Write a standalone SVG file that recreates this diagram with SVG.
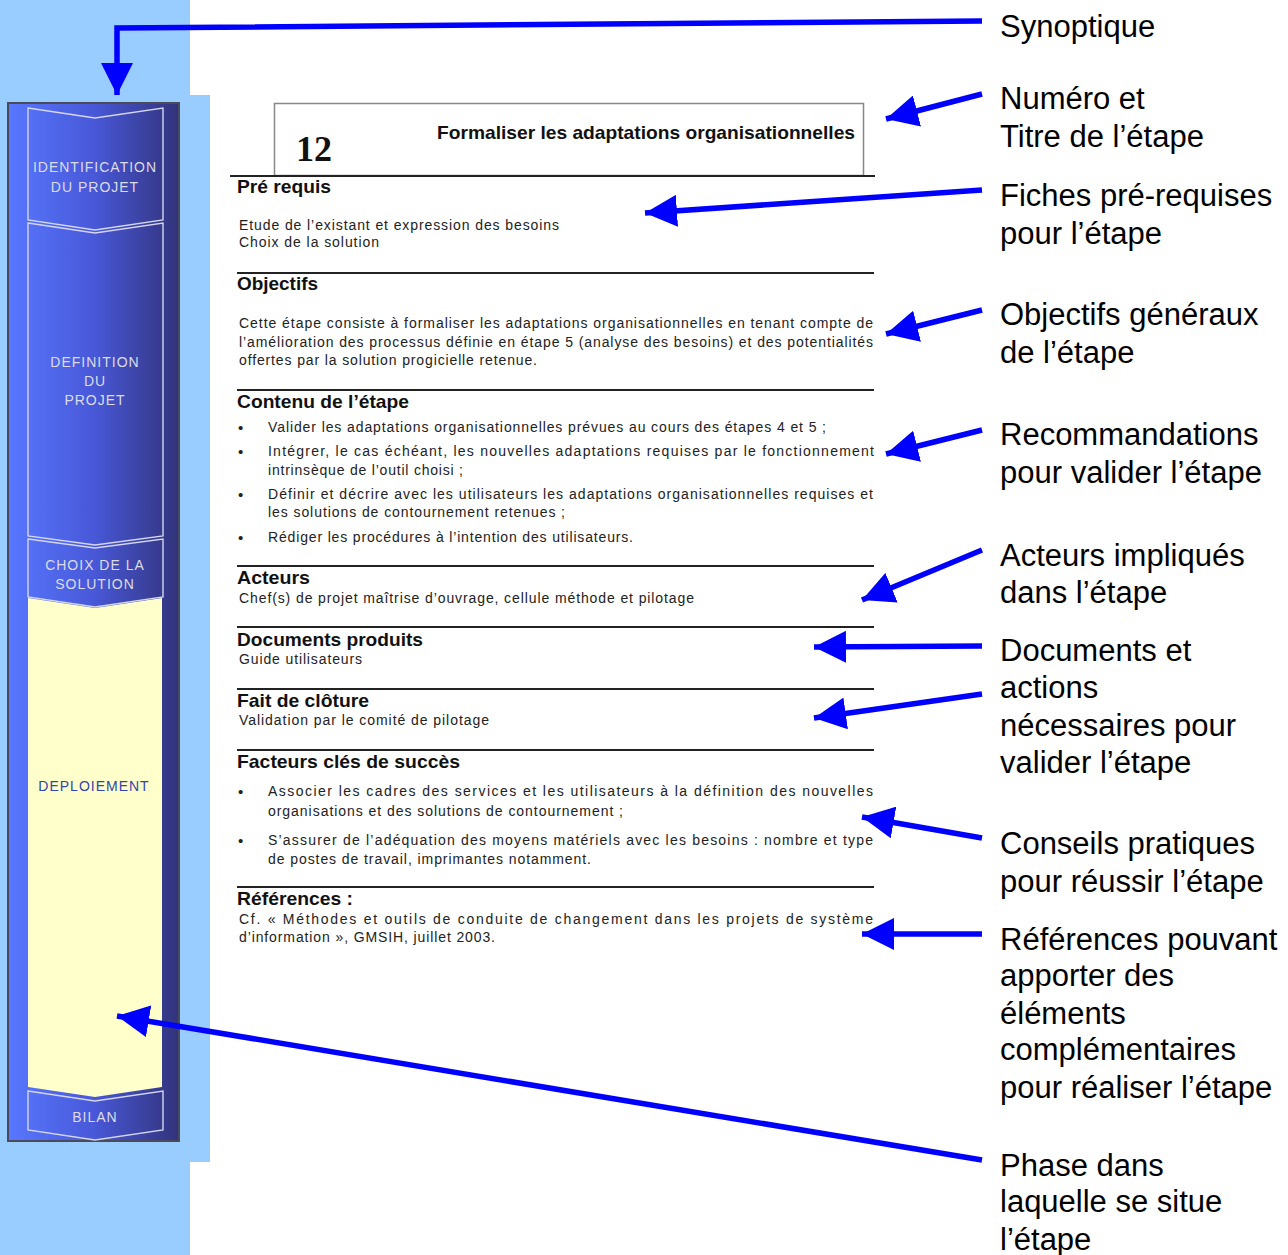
<svg xmlns="http://www.w3.org/2000/svg" width="1288" height="1255" viewBox="0 0 1288 1255">
<style>
.bg{fill:#99CCFF}
.pan{fill:none;stroke:#d4d6f0;stroke-width:1.4}
.side{font-family:"Liberation Sans",Arial,sans-serif;font-size:14px;fill:#dcdce8;text-anchor:middle;letter-spacing:1px}
.h{font-family:"Liberation Sans",Arial,sans-serif;font-size:19px;font-weight:bold;fill:#111}
.b{font-family:"Liberation Sans",Arial,sans-serif;font-size:14px;fill:#222}
.bu{font-family:"Liberation Sans",Arial,sans-serif;font-size:15px;fill:#222}
.lab{font-family:"Liberation Sans",Arial,sans-serif;font-size:31px;fill:#000}
.sep{stroke:#222;stroke-width:2}
.arr{fill:none;stroke:#0000FF;stroke-width:5.5;stroke-linecap:butt;stroke-linejoin:miter;marker-end:url(#ah)}
</style>
<defs>
<linearGradient id="sg" x1="0" y1="0" x2="1" y2="0">
<stop offset="0" stop-color="#5878ff"/>
<stop offset="0.5" stop-color="#4858d8"/>
<stop offset="1" stop-color="#32337a"/>
</linearGradient>
<marker id="ah" viewBox="0 0 32 32" refX="32" refY="16" markerWidth="32" markerHeight="32" markerUnits="userSpaceOnUse" orient="auto">
<path d="M0,0 L32,16 L0,32 Z" fill="#0000FF"/>
</marker>
</defs>

<g id="background">
<rect class="bg" x="0" y="0" width="190" height="1255"/>
<rect class="bg" x="188" y="95" width="22" height="1067"/>
</g>

<g id="sidebar">
<rect x="8" y="103" width="171" height="1038" fill="url(#sg)" stroke="#4a4a5a" stroke-width="2"/>
<path d="M28,598 L95,608 L162,598 L162,1087 L95,1097 L28,1087 Z" fill="#FFFFCC"/>
<path class="pan" d="M28,108 L95,118 L163,108 L163,220 L95,230 L28,220 Z"/>
<path class="pan" d="M28,223 L95,233 L163,223 L163,536 L95,545 L28,536 Z"/>
<path class="pan" d="M28,539 L95,548 L163,539 L163,597 L95,607 L28,597 Z"/>
<path class="pan" d="M28,1091 L95,1101 L163,1091 L163,1130 L95,1140 L28,1130 Z"/>
<text class="side" x="95" y="172">IDENTIFICATION</text>
<text class="side" x="95" y="192">DU PROJET</text>
<text class="side" x="95" y="367">DEFINITION</text>
<text class="side" x="95" y="386">DU</text>
<text class="side" x="95" y="405">PROJET</text>
<text class="side" x="95" y="570">CHOIX DE LA</text>
<text class="side" x="95" y="589">SOLUTION</text>
<text class="side" x="94" y="791" style="fill:#3344aa">DEPLOIEMENT</text>
<text class="side" x="95" y="1122">BILAN</text>
</g>

<g id="fiche">
<rect x="274.5" y="103.5" width="589" height="72" fill="#fff" stroke="#888" stroke-width="1.5"/>
<text x="296" y="161" style="font-family:'Liberation Serif','Times New Roman',serif;font-size:36px;font-weight:bold;fill:#111">12</text>
<text x="437" y="139" textLength="418" lengthAdjust="spacingAndGlyphs" style="font-family:'Liberation Sans',Arial,sans-serif;font-size:19px;font-weight:bold;fill:#111">Formaliser les adaptations organisationnelles</text>
<line class="sep" x1="230" y1="176" x2="875" y2="176"/>
<line class="sep" x1="237" y1="273" x2="874" y2="273"/>
<line class="sep" x1="237" y1="390" x2="874" y2="390"/>
<line class="sep" x1="237" y1="566" x2="874" y2="566"/>
<line class="sep" x1="237" y1="627" x2="874" y2="627"/>
<line class="sep" x1="237" y1="689" x2="874" y2="689"/>
<line class="sep" x1="237" y1="750" x2="874" y2="750"/>
<line class="sep" x1="237" y1="887" x2="874" y2="887"/>

<text class="h" x="237" y="193" textLength="94" lengthAdjust="spacingAndGlyphs">Pré requis</text>
<text class="b" x="239" y="230" textLength="320">Etude de l’existant et expression des besoins</text>
<text class="b" x="239" y="247" textLength="140">Choix de la solution</text>

<text class="h" x="237" y="290" textLength="81" lengthAdjust="spacingAndGlyphs">Objectifs</text>
<text class="b" x="239" y="328" textLength="634">Cette étape consiste à formaliser les adaptations organisationnelles en tenant compte de</text>
<text class="b" x="239" y="347" textLength="634">l’amélioration des processus définie en étape 5 (analyse des besoins) et des potentialités</text>
<text class="b" x="239" y="365" textLength="298">offertes par la solution progicielle retenue.</text>

<text class="h" x="237" y="408" textLength="172" lengthAdjust="spacingAndGlyphs">Contenu de l’étape</text>
<text class="bu" x="238" y="433">•</text>
<text class="b" x="268" y="432" textLength="558">Valider les adaptations organisationnelles prévues au cours des étapes 4 et 5 ;</text>
<text class="bu" x="238" y="457">•</text>
<text class="b" x="268" y="456" textLength="606">Intégrer, le cas échéant, les nouvelles adaptations requises par le fonctionnement</text>
<text class="b" x="268" y="475" textLength="195">intrinsèque de l’outil choisi ;</text>
<text class="bu" x="238" y="500">•</text>
<text class="b" x="268" y="499" textLength="605">Définir et décrire avec les utilisateurs les adaptations organisationnelles requises et</text>
<text class="b" x="268" y="517" textLength="297">les solutions de contournement retenues ;</text>
<text class="bu" x="238" y="543">•</text>
<text class="b" x="268" y="542" textLength="365">Rédiger les procédures à l’intention des utilisateurs.</text>

<text class="h" x="237" y="584" textLength="73" lengthAdjust="spacingAndGlyphs">Acteurs</text>
<text class="b" x="239" y="603" textLength="455">Chef(s) de projet maîtrise d’ouvrage, cellule méthode et pilotage</text>

<text class="h" x="237" y="646" textLength="186" lengthAdjust="spacingAndGlyphs">Documents produits</text>
<text class="b" x="239" y="664" textLength="123">Guide utilisateurs</text>

<text class="h" x="237" y="707" textLength="132" lengthAdjust="spacingAndGlyphs">Fait de clôture</text>
<text class="b" x="239" y="725" textLength="250">Validation par le comité de pilotage</text>

<text class="h" x="237" y="768" textLength="223" lengthAdjust="spacingAndGlyphs">Facteurs clés de succès</text>
<text class="bu" x="238" y="797">•</text>
<text class="b" x="268" y="796" textLength="605">Associer les cadres des services et les utilisateurs à la définition des nouvelles</text>
<text class="b" x="268" y="816" textLength="355">organisations et des solutions de contournement ;</text>
<text class="bu" x="238" y="846">•</text>
<text class="b" x="268" y="845" textLength="605">S’assurer de l’adéquation des moyens matériels avec les besoins : nombre et type</text>
<text class="b" x="268" y="864" textLength="323">de postes de travail, imprimantes notamment.</text>

<text class="h" x="237" y="905" textLength="116" lengthAdjust="spacingAndGlyphs">Références :</text>
<text class="b" x="239" y="924" textLength="634">Cf. « Méthodes et outils de conduite de changement dans les projets de système</text>
<text class="b" x="239" y="942" textLength="256">d’information », GMSIH, juillet 2003.</text>
</g>

<g id="labels">
<text class="lab" x="1000" y="37">Synoptique</text>
<text class="lab" x="1000" y="109">Numéro et</text>
<text class="lab" x="1000" y="147">Titre de l’étape</text>
<text class="lab" x="1000" y="206">Fiches pré-requises</text>
<text class="lab" x="1000" y="244">pour l’étape</text>
<text class="lab" x="1000" y="325">Objectifs généraux</text>
<text class="lab" x="1000" y="363">de l’étape</text>
<text class="lab" x="1000" y="445">Recommandations</text>
<text class="lab" x="1000" y="483">pour valider l’étape</text>
<text class="lab" x="1000" y="566">Acteurs impliqués</text>
<text class="lab" x="1000" y="603">dans l’étape</text>
<text class="lab" x="1000" y="661">Documents et</text>
<text class="lab" x="1000" y="698">actions</text>
<text class="lab" x="1000" y="736">nécessaires pour</text>
<text class="lab" x="1000" y="773">valider l’étape</text>
<text class="lab" x="1000" y="854">Conseils pratiques</text>
<text class="lab" x="1000" y="892">pour réussir l’étape</text>
<text class="lab" x="1000" y="950">Références pouvant</text>
<text class="lab" x="1000" y="986">apporter des</text>
<text class="lab" x="1000" y="1024">éléments</text>
<text class="lab" x="1000" y="1060">complémentaires</text>
<text class="lab" x="1000" y="1098">pour réaliser l’étape</text>
<text class="lab" x="1000" y="1176">Phase dans</text>
<text class="lab" x="1000" y="1212">laquelle se situe</text>
<text class="lab" x="1000" y="1250">l’étape</text>
</g>

<g id="connectors">
<path class="arr" d="M982,21 L117,28 L117,95"/>
<path class="arr" d="M982,94 L886,119"/>
<path class="arr" d="M982,190 L645,213"/>
<path class="arr" d="M982,310 L886,334"/>
<path class="arr" d="M982,430 L886,454"/>
<path class="arr" d="M982,550 L862,600"/>
<path class="arr" d="M982,646 L814,647"/>
<path class="arr" d="M982,694 L814,718"/>
<path class="arr" d="M982,838 L862,817"/>
<path class="arr" d="M982,934 L862,934"/>
<path class="arr" d="M982,1160 L117,1016"/>
</g>
</svg>
